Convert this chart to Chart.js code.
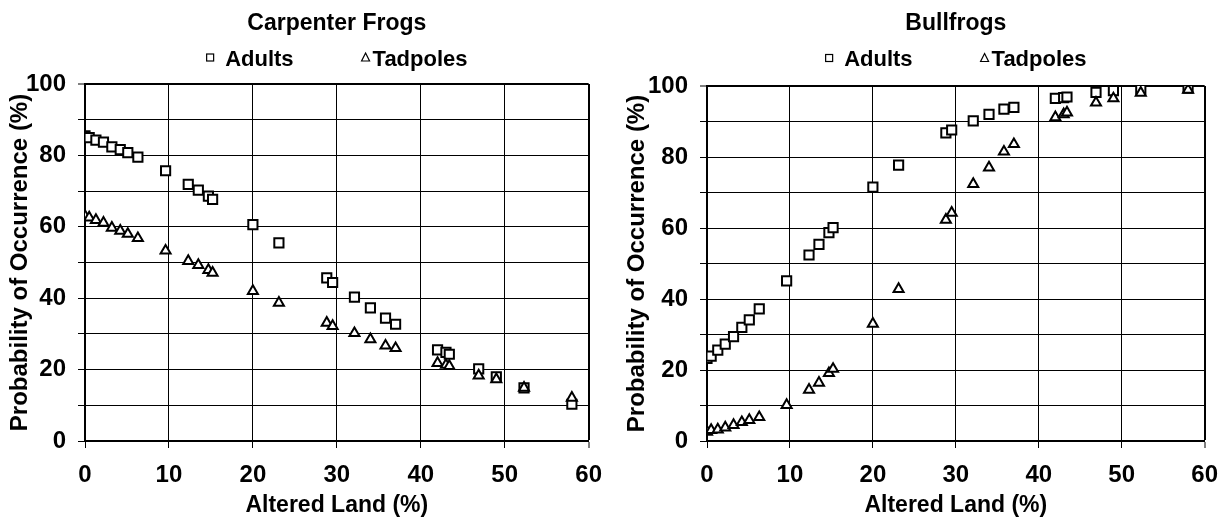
<!DOCTYPE html>
<html>
<head>
<meta charset="utf-8">
<title>Probability of Occurrence vs Altered Land</title>
<script src="https://cdn.jsdelivr.net/npm/chart.js@4/dist/chart.umd.min.js"></script>
<style>
    html, body { margin: 0; padding: 0; background: #fff; overflow: hidden; }
    .panel { position: absolute; top: 0; width: 615px; height: 525px; }
    #carpenterPanel { left: 0; }
    #bullfrogPanel { left: 616px; }
</style>
</head>
<body>
<div class="panel" id="carpenterPanel"><canvas id="carpenterChart" width="615" height="525"></canvas></div>
<div class="panel" id="bullfrogPanel"><canvas id="bullfrogChart" width="615" height="525"></canvas></div>

<script>
// Altered land (%) around each site - same sites in both panels
const alteredLand = [0, 0.5, 1.3, 2.2, 3.2, 4.2, 5.1, 6.3, 9.6, 12.3, 13.5, 14.7, 15.2, 20.0,
    23.1, 28.8, 29.5, 32.1, 34.0, 35.8, 37.0, 42.0, 43.0, 43.4, 46.9, 49.0, 52.3, 58.0];

// Probability of occurrence (%)
const carpenterAdults = [85.5, 85.0, 84.3, 83.7, 82.4, 81.6, 80.8, 79.5, 75.7, 71.9, 70.3, 68.6, 67.7, 60.6,
    55.5, 45.7, 44.4, 40.3, 37.3, 34.4, 32.7, 25.5, 24.8, 24.3, 20.2, 18.0, 14.9, 10.3];
const carpenterTadpoles = [63.0, 62.6, 61.9, 61.1, 59.7, 58.9, 58.0, 56.8, 53.3, 50.4, 49.3, 47.9, 47.1, 42.0,
    38.7, 33.1, 32.2, 30.2, 28.5, 26.7, 26.0, 21.8, 21.3, 21.0, 18.3, 17.3, 14.9, 12.1];
const bullfrogAdults = [23.3, 23.9, 25.6, 27.3, 29.4, 32.0, 34.1, 37.2, 45.1, 52.4, 55.4, 58.7, 60.1, 71.5,
    77.7, 86.8, 87.6, 90.2, 92.0, 93.5, 94.0, 96.5, 96.7, 96.9, 98.2, 98.7, 99.1, 99.4];
const bullfrogTadpoles = [2.6, 3.1, 3.2, 3.8, 4.5, 5.3, 5.9, 6.7, 10.1, 14.4, 16.4, 19.1, 20.3, 33.0,
    42.8, 62.3, 64.3, 72.4, 77.0, 81.5, 83.6, 91.2, 92.0, 92.5, 95.3, 96.5, 98.1, 98.9];

// only every other y gridline gets a label
const yTickLabels = [0, 20, 40, 60, 80, 100];

const FONT = '"Liberation Sans", Arial, sans-serif';

// small "□ Adults   △ Tadpoles" row above the plot
const symbolKey = {
    id: 'symbolKey',
    afterDraw(chart, args, opts) {
        const { ctx, chartArea } = chart;
        ctx.save();
        ctx.font = 'bold 22px ' + FONT;
        ctx.textBaseline = 'middle';
        ctx.fillStyle = '#000';
        ctx.strokeStyle = '#000';
        ctx.lineWidth = 1.2;

        const items = chart.data.datasets.map((ds, i) => ({
            label: ds.label,
            style: ds.pointStyle,
            lead: opts.lead[i],
            w: ctx.measureText(ds.label).width
        }));
        const total = items.reduce((s, it) => s + it.lead + it.w, 0) + opts.gap * (items.length - 1);
        let x = (chartArea.left + chartArea.right) / 2 - total / 2;
        const y = opts.y;
        const sy = y - 2;

        items.forEach(it => {
            if (it.style === 'rect') {
                ctx.strokeRect(x + 0.5, sy - 3.5, 7, 7);
            } else {
                ctx.beginPath();
                ctx.moveTo(x + 4, sy - 4.5);
                ctx.lineTo(x + 8, sy + 3.5);
                ctx.lineTo(x, sy + 3.5);
                ctx.closePath();
                ctx.stroke();
            }
            ctx.fillText(it.label, x + it.lead, y);
            x += it.lead + it.w + opts.gap;
        });
        ctx.restore();
    }
};

function toPoints(values) {
    return alteredLand.map((x, i) => ({ x: x, y: values[i] }));
}

function makeChart(canvasId, title, adults, tadpoles, box) {
    const ctx = document.getElementById(canvasId).getContext('2d');
    return new Chart(ctx, {
        type: 'scatter',
        data: {
            datasets: [{
                label: 'Adults',
                data: toPoints(adults),
                pointStyle: 'rect',
                pointRadius: 6.5,
                pointBorderWidth: 2,
                pointBackgroundColor: '#fff',
                pointBorderColor: '#000',
                order: 2
            }, {
                label: 'Tadpoles',
                data: toPoints(tadpoles),
                pointStyle: 'triangle',
                pointRadius: 5.8,
                pointBorderWidth: 2,
                pointBackgroundColor: '#fff',
                pointBorderColor: '#000',
                order: 1
            }]
        },
        options: {
            responsive: false,
            animation: false,
            layout: { padding: { left: 0, right: box.padRight, top: 0, bottom: 0 } },
            plugins: {
                legend: { display: false },
                tooltip: { enabled: false },
                title: {
                    display: true,
                    text: title,
                    fullSize: false,
                    color: '#000',
                    font: { family: FONT, size: 23, weight: 'bold' },
                    padding: { top: box.titleTop, bottom: box.titleBottom }
                },
                symbolKey: { y: box.keyY, gap: 68, lead: [19, 11] }
            },
            scales: {
                x: {
                    type: 'linear',
                    min: 0,
                    max: 60,
                    afterFit: (s) => { s.height = 84; },
                    ticks: {
                        stepSize: 10,
                        padding: 13,
                        color: '#000',
                        font: { family: FONT, size: 24, weight: 'bold' }
                    },
                    grid: {
                        color: '#000',
                        lineWidth: (c) => (c.tick && c.tick.value === 60 ? 2 : 1),
                        tickLength: 7,
                        tickWidth: 1,
                        tickColor: '#000'
                    },
                    border: { color: '#000', width: 2 },
                    title: {
                        display: true,
                        text: 'Altered Land (%)',
                        color: '#000',
                        font: { family: FONT, size: 23, weight: 'bold' },
                        padding: { top: 0, bottom: 6 }
                    }
                },
                y: {
                    min: 0,
                    max: 100,
                    afterFit: (s) => { s.width = box.axisWidth; },
                    ticks: {
                        stepSize: 10,
                        padding: 12,
                        color: '#000',
                        font: { family: FONT, size: 24, weight: 'bold' },
                        callback: (val) => (yTickLabels.includes(val) ? val : '')
                    },
                    grid: {
                        color: '#000',
                        lineWidth: (c) => (c.tick && c.tick.value === 100 ? 2 : 1),
                        tickLength: 7,
                        tickWidth: 1,
                        tickColor: '#000'
                    },
                    border: { color: '#000', width: 2 },
                    title: {
                        display: true,
                        text: 'Probability of Occurrence (%)',
                        color: '#000',
                        font: { family: FONT, size: 24, weight: 'bold' },
                        padding: { top: box.yTitlePad, bottom: 0 }
                    }
                }
            }
        },
        plugins: [symbolKey]
    });
}

document.addEventListener('DOMContentLoaded', () => {
    if (typeof Chart === 'undefined') {
        console.error('Chart.js not loaded');
        return;
    }
    makeChart('carpenterChart', 'Carpenter Frogs', carpenterAdults, carpenterTadpoles,
        { padRight: 25, axisWidth: 85, titleTop: 10, titleBottom: 46.4, keyY: 59.5, yTitlePad: 6 });
    makeChart('bullfrogChart', 'Bullfrogs', bullfrogAdults, bullfrogTadpoles,
        { padRight: 22, axisWidth: 91, titleTop: 10, titleBottom: 48.4, keyY: 60, yTitlePad: 7 });
});
</script>
</body>
</html>
